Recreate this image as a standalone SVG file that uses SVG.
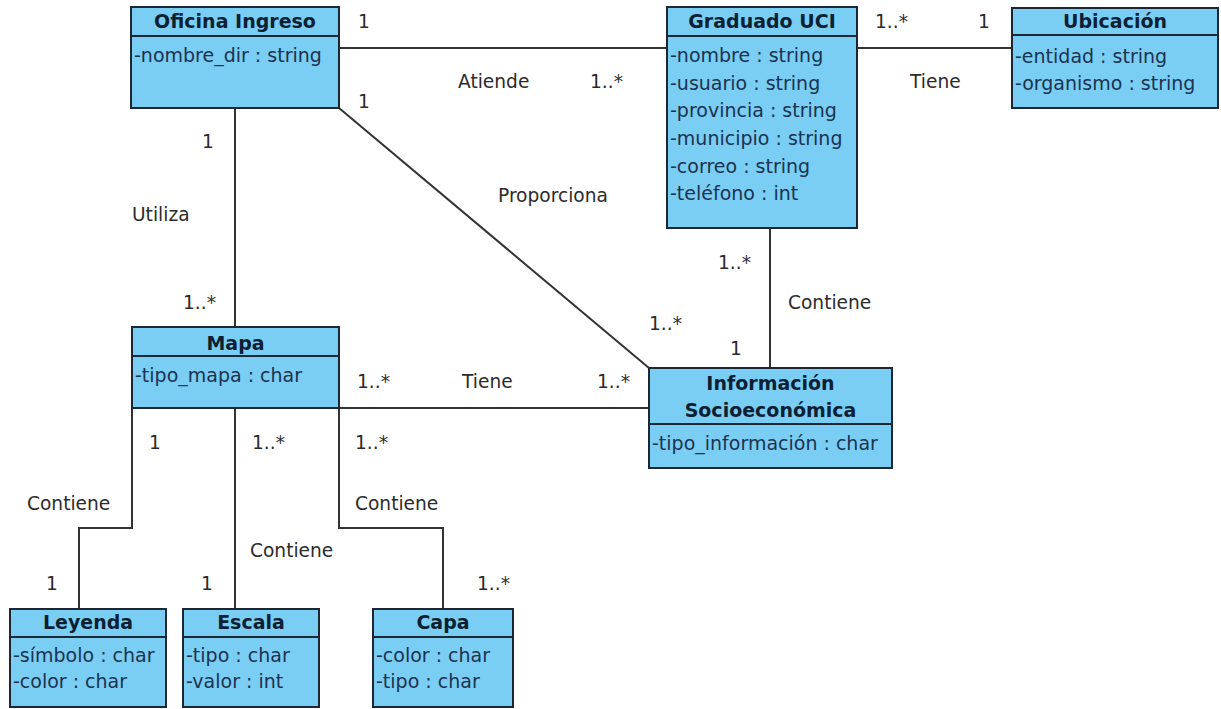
<svg xmlns="http://www.w3.org/2000/svg" width="1221" height="709" viewBox="0 0 1221 709">
  <style>
    .box { fill: #7acdf3; stroke: #1c2733; stroke-width: 2; }
    .sep { stroke: #1c2733; stroke-width: 2; }
    .title { font-family: "DejaVu Sans", "Liberation Sans", sans-serif; font-size: 19px; font-weight: bold; fill: #0d1f33; text-anchor: middle; }
    .attr { font-family: "DejaVu Sans", "Liberation Sans", sans-serif; font-size: 19px; fill: #1a3350; }
    .conn { fill: none; stroke: #333333; stroke-width: 2; }
    .lbl { font-family: "DejaVu Sans", "Liberation Sans", sans-serif; font-size: 18.6px; fill: #2b2b2b; }
  </style>
  <rect width="1221" height="709" fill="#ffffff"/>

  <!-- associations -->
  <g id="connectors">
    <line class="conn" x1="339" y1="48" x2="667" y2="48"/>
    <line class="conn" x1="857" y1="48" x2="1012" y2="48"/>
    <line class="conn" x1="235" y1="108" x2="235" y2="327"/>
    <line class="conn" x1="339" y1="108" x2="649" y2="368"/>
    <line class="conn" x1="770" y1="228" x2="770" y2="368"/>
    <line class="conn" x1="339" y1="408" x2="649" y2="408"/>
    <polyline class="conn" points="132,408 132,528 79,528 79,609"/>
    <line class="conn" x1="235" y1="408" x2="235" y2="609"/>
    <polyline class="conn" points="339,408 339,528 443,528 443,609"/>

    <!-- role names and multiplicities -->
    <text class="lbl" x="358" y="28">1</text>
    <text class="lbl" x="458" y="88">Atiende</text>
    <text class="lbl" x="590" y="88">1..*</text>
    <text class="lbl" x="358" y="108">1</text>
    <text class="lbl" x="875" y="28">1..*</text>
    <text class="lbl" x="978" y="28">1</text>
    <text class="lbl" x="910" y="88">Tiene</text>
    <text class="lbl" x="202" y="148">1</text>
    <text class="lbl" x="132" y="221">Utiliza</text>
    <text class="lbl" x="183" y="309">1..*</text>
    <text class="lbl" x="498" y="202">Proporciona</text>
    <text class="lbl" x="718" y="269">1..*</text>
    <text class="lbl" x="788" y="309">Contiene</text>
    <text class="lbl" x="649" y="330">1..*</text>
    <text class="lbl" x="730" y="355">1</text>
    <text class="lbl" x="597" y="388">1..*</text>
    <text class="lbl" x="357" y="388">1..*</text>
    <text class="lbl" x="462" y="388">Tiene</text>
    <text class="lbl" x="149" y="449">1</text>
    <text class="lbl" x="252" y="449">1..*</text>
    <text class="lbl" x="355" y="449">1..*</text>
    <text class="lbl" x="27" y="510">Contiene</text>
    <text class="lbl" x="355" y="510">Contiene</text>
    <text class="lbl" x="250" y="557">Contiene</text>
    <text class="lbl" x="46" y="590">1</text>
    <text class="lbl" x="201" y="590">1</text>
    <text class="lbl" x="477" y="590">1..*</text>
  </g>

  <g id="oficina-ingreso">
    <rect class="box" x="131" y="7" width="208" height="101"/>
    <line class="sep" x1="131" y1="36" x2="339" y2="36"/>
    <text class="title" x="235" y="28">Oficina Ingreso</text>
    <text class="attr" x="134" y="62">-nombre_dir : string</text>
  </g>

  <g id="graduado-uci">
    <rect class="box" x="667" y="7" width="190" height="221"/>
    <line class="sep" x1="667" y1="36" x2="857" y2="36"/>
    <text class="title" x="762" y="28">Graduado UCI</text>
    <text class="attr" x="670" y="62">-nombre : string</text>
    <text class="attr" x="670" y="90">-usuario : string</text>
    <text class="attr" x="670" y="117">-provincia : string</text>
    <text class="attr" x="670" y="145">-municipio : string</text>
    <text class="attr" x="670" y="173">-correo : string</text>
    <text class="attr" x="670" y="200">-teléfono : int</text>
  </g>

  <g id="ubicacion">
    <rect class="box" x="1012" y="8" width="206" height="100"/>
    <line class="sep" x1="1012" y1="35" x2="1218" y2="35"/>
    <text class="title" x="1115" y="28">Ubicación</text>
    <text class="attr" x="1015" y="63">-entidad : string</text>
    <text class="attr" x="1015" y="90">-organismo : string</text>
  </g>

  <g id="mapa">
    <rect class="box" x="132" y="327" width="207" height="81"/>
    <line class="sep" x1="132" y1="356" x2="339" y2="356"/>
    <text class="title" x="235.5" y="350">Mapa</text>
    <text class="attr" x="135" y="382">-tipo_mapa : char</text>
  </g>

  <g id="informacion-socioeconomica">
    <rect class="box" x="649" y="368" width="243" height="100"/>
    <line class="sep" x1="649" y1="424" x2="892" y2="424"/>
    <text class="title" x="770.5" y="390">Información</text>
    <text class="title" x="770.5" y="417">Socioeconómica</text>
    <text class="attr" x="652" y="450">-tipo_información : char</text>
  </g>

  <g id="leyenda">
    <rect class="box" x="10" y="609" width="156" height="98"/>
    <line class="sep" x1="10" y1="637" x2="166" y2="637"/>
    <text class="title" x="88" y="629">Leyenda</text>
    <text class="attr" x="13" y="662">-símbolo : char</text>
    <text class="attr" x="13" y="688">-color : char</text>
  </g>

  <g id="escala">
    <rect class="box" x="183" y="609" width="136" height="98"/>
    <line class="sep" x1="183" y1="637" x2="319" y2="637"/>
    <text class="title" x="251" y="629">Escala</text>
    <text class="attr" x="186" y="662">-tipo : char</text>
    <text class="attr" x="186" y="688">-valor : int</text>
  </g>

  <g id="capa">
    <rect class="box" x="373" y="609" width="140" height="98"/>
    <line class="sep" x1="373" y1="637" x2="513" y2="637"/>
    <text class="title" x="443" y="629">Capa</text>
    <text class="attr" x="376" y="662">-color : char</text>
    <text class="attr" x="376" y="688">-tipo : char</text>
  </g>
</svg>
